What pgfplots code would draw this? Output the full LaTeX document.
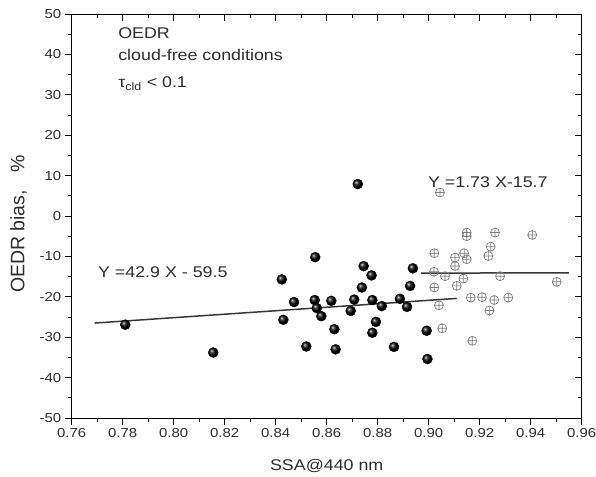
\documentclass[border=0pt]{standalone}
\usepackage{fontspec}
\setmainfont{Liberation Sans}[FakeStretch=1.15]
\newfontfamily\ylabfont{Liberation Sans}
\usepackage{pgfplots}
\pgfplotsset{compat=1.18}
\definecolor{txt}{RGB}{45,45,45}
\definecolor{crossc}{RGB}{125,125,125}
\definecolor{fitc}{RGB}{55,55,55}

\pgfplotstableread{
x y
0.781 -26.9
0.8155 -33.8
0.8555 -10.2
0.8424 -15.7
0.8745 -12.4
0.8776 -14.7
0.8938 -12.95
0.8738 -17.7
0.8927 -17.3
0.8472 -21.3
0.8553 -20.8
0.8618 -21.0
0.8708 -20.7
0.8779 -20.8
0.8816 -22.3
0.8887 -20.5
0.8915 -22.5
0.8561 -22.8
0.8579 -24.8
0.8694 -23.5
0.8430 -25.7
0.8793 -26.2
0.8630 -28.0
0.8779 -28.9
0.8520 -32.3
0.8635 -33.0
0.8864 -32.4
0.8722 7.9
0.8992 -28.4
0.8995 -35.4
}\filledtab

\pgfplotstableread{
x y
0.9044 5.8
0.9149 -4.1
0.9149 -5.0
0.9260 -4.1
0.9406 -4.7
0.9022 -9.2
0.9139 -9.2
0.9243 -7.6
0.9103 -10.3
0.9149 -10.7
0.9234 -9.9
0.9103 -12.4
0.9021 -13.8
0.9064 -14.9
0.9136 -15.5
0.9280 -14.9
0.9502 -16.3
0.9022 -17.7
0.9110 -17.3
0.9165 -20.2
0.9209 -20.1
0.9257 -20.8
0.9312 -20.2
0.9040 -22.1
0.9238 -23.4
0.9053 -27.8
0.9171 -30.9
}\crosstab

\begin{document}
\begin{tikzpicture}
\pgfplotsset{
  common/.style={
    scale only axis, width=510pt, height=404pt,
    at={(0,0)}, anchor=south west,
    xmin=0.76, xmax=0.96, ymin=-50, ymax=50,
    xtick={0.76,0.78,0.80,0.82,0.84,0.86,0.88,0.90,0.92,0.94,0.96},
    ytick={-50,-40,-30,-20,-10,0,10,20,30,40,50},
    minor x tick num=1, minor y tick num=1,
    major tick length=7pt, minor tick length=4pt,
    axis line style={black, line width=0.8pt},
    every tick/.style={black, line width=0.8pt},
    scaled ticks=false,
  }
}
\begin{axis}[common,
  tick align=outside, xtick pos=left, ytick pos=left,
  /pgf/number format/assume math mode=true,
  xticklabel style={/pgf/number format/.cd, fixed, fixed zerofill, precision=2},
  yticklabel style={/pgf/number format/.cd, fixed, precision=0},
  ticklabel style={font=\fontsize{13}{15}\selectfont, text=txt},
  xlabel={SSA@440 nm},
  xlabel style={at={(axis description cs:0.5,-0.1188)}, anchor=center, font=\fontsize{15.5}{18}\selectfont, text=txt},
  ylabel={OEDR bias,\hspace{0.9em}\%},
  ylabel style={at={(axis description cs:-0.1043,0.48)}, anchor=center, font=\ylabfont\fontsize{19.5}{22}\selectfont, text=txt},
]
\addplot[fitc, line width=1.5pt] coordinates {(0.769,-26.5) (0.911,-20.4)};
\addplot[fitc, line width=1.5pt] coordinates {(0.897,-14.15) (0.955,-14.05)};
\addplot[only marks, mark=oplus, mark size=4.5pt, crossc, mark options={line width=0.7pt}] table[x=x,y=y] {\crosstab};
\addplot[only marks, mark=ball, mark size=5pt, mark options={ball color=black}] table[x=x,y=y] {\filledtab};

\begin{scope}[every node/.style={anchor=west, inner sep=0pt, text=txt, font=\fontsize{15.5}{18}\selectfont}]
\node at (axis cs:0.7782,45.3) {OEDR};
\node at (axis cs:0.7782,39.85) {cloud-free conditions};
\node at (axis cs:0.7782,32.7) {τ\textsubscript{cld} < 0.1};
\node at (axis cs:0.7703,-13.9) {Y =42.9 X - 59.5};
\node at (axis cs:0.8997,8.4) {Y =1.73 X-15.7};
\end{scope}
\end{axis}
\begin{axis}[common,
  tick align=inside, xtick pos=right, ytick pos=right,
  xticklabels={}, yticklabels={},
]
\end{axis}
\pgfresetboundingbox
\path (-71.7pt,-58pt) rectangle (524.3pt,418pt);
\end{tikzpicture}
\end{document}
